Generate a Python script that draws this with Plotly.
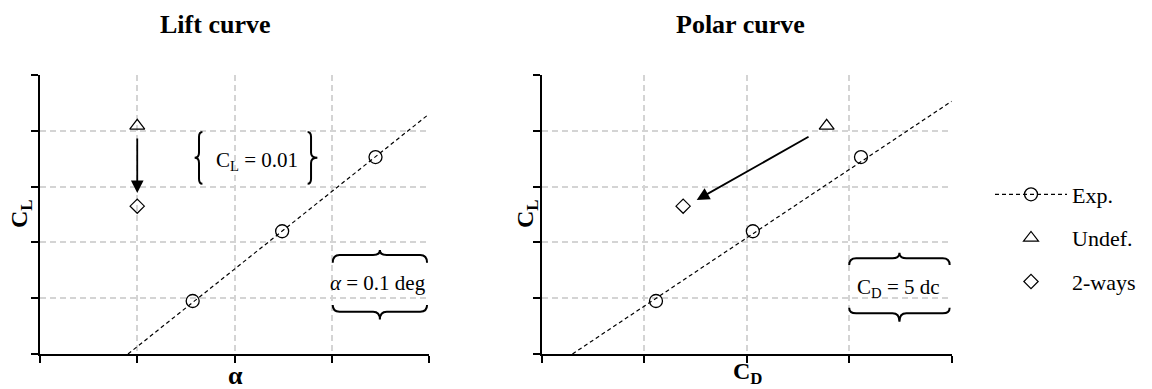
import plotly.graph_objects as go

# ---------------- data ----------------
# Lift curve (x = alpha, y = C_L), arbitrary grid units
lift_exp_x = [1.57, 2.49, 3.45]
lift_exp_y = [0.95, 2.20, 3.53]
lift_fit_x = [0.905, 4.0]
lift_fit_y = [0.0, 4.30]
lift_undef_x = [1.0]
lift_undef_y = [4.09]
lift_2w_x = [1.0]
lift_2w_y = [2.65]

# Polar curve (x = C_D, y = C_L)
polar_exp_x = [1.115, 2.06, 3.115]
polar_exp_y = [0.95, 2.20, 3.53]
polar_fit_x = [0.30, 4.0]
polar_fit_y = [0.0, 4.53]
polar_undef_x = [2.78]
polar_undef_y = [4.09]
polar_2w_x = [1.38]
polar_2w_y = [2.65]

x_ticks = [0, 1, 2, 3, 4]
y_ticks = [0, 1, 2, 3, 4, 5]

titles = ["Lift curve", "Polar curve"]
legend_names = ["Exp.", "Undef.", "2-ways"]

FONT = "Liberation Serif"
BLACK = "#000000"
GRID = "#d4d4d4"

fig = go.Figure()

# fit lines
fig.add_trace(go.Scatter(x=lift_fit_x, y=lift_fit_y, mode="lines", showlegend=False,
                         line=dict(color=BLACK, width=1.2, dash="4px,3px"), xaxis="x", yaxis="y"))
fig.add_trace(go.Scatter(x=polar_fit_x, y=polar_fit_y, mode="lines", showlegend=False,
                         line=dict(color=BLACK, width=1.2, dash="4px,3px"), xaxis="x2", yaxis="y2"))

circ = dict(symbol="circle-open", size=13, color=BLACK, line=dict(width=1.3, color=BLACK))
tri = dict(symbol="triangle-up-open", size=13, color=BLACK, line=dict(width=1.2, color=BLACK))
dia = dict(symbol="diamond-open", size=11, color=BLACK, line=dict(width=1.2, color=BLACK))

for (ex, ey, ux, uy, wx, wy, xa, ya) in [
    (lift_exp_x, lift_exp_y, lift_undef_x, lift_undef_y, lift_2w_x, lift_2w_y, "x", "y"),
    (polar_exp_x, polar_exp_y, polar_undef_x, polar_undef_y, polar_2w_x, polar_2w_y, "x2", "y2"),
]:
    fig.add_trace(go.Scatter(x=ex, y=ey, mode="markers", marker=circ, showlegend=False, xaxis=xa, yaxis=ya))
    fig.add_trace(go.Scatter(x=ux, y=uy, mode="markers", marker=tri, showlegend=False, xaxis=xa, yaxis=ya))
    fig.add_trace(go.Scatter(x=wx, y=wy, mode="markers", marker=dia, showlegend=False, xaxis=xa, yaxis=ya))

# legend-only entries
fig.add_trace(go.Scatter(x=[None], y=[None], mode="lines+markers", name=legend_names[0], legendgroup="a",
                         line=dict(color=BLACK, width=1.2, dash="4px,3px"), marker=circ))
fig.add_trace(go.Scatter(x=[None], y=[None], mode="markers", name=legend_names[1], legendgroup="b", marker=tri))
fig.add_trace(go.Scatter(x=[None], y=[None], mode="markers", name=legend_names[2], legendgroup="c", marker=dia))

W, H = 1152, 389
def px_x(p): return p / W
def px_y(p): return 1 - p / H

axis_common = dict(
    showline=True, linecolor=BLACK, linewidth=2,
    ticks="outside", ticklen=7, tickwidth=1.5, tickcolor=BLACK,
    showticklabels=False, zeroline=False,
    showgrid=True, gridcolor=GRID, gridwidth=1.6, griddash="6px,4px",
    fixedrange=True,
)
ydom = [px_y(354), px_y(75)]
fig.update_layout(
    width=W, height=H,
    margin=dict(l=0, r=0, t=0, b=0),
    paper_bgcolor="white", plot_bgcolor="white",
    font=dict(family=FONT, size=20, color=BLACK),
    xaxis=dict(axis_common, domain=[px_x(40), px_x(429)], range=[0, 4], tickvals=x_ticks, anchor="y"),
    yaxis=dict(axis_common, domain=ydom, range=[0, 5], tickvals=y_ticks, anchor="x"),
    xaxis2=dict(axis_common, domain=[px_x(541.7), px_x(951.7)], range=[0, 4], tickvals=x_ticks, anchor="y2"),
    yaxis2=dict(axis_common, domain=ydom, range=[0, 5], tickvals=y_ticks, anchor="x2"),
    legend=dict(x=px_x(990), y=px_y(238), xanchor="left", yanchor="middle",
                font=dict(family=FONT, size=22), tracegroupgap=12, itemwidth=72,
                bgcolor="rgba(0,0,0,0)"),
    showlegend=True,
)

ann = []
# titles
for t, cx in zip(titles, [215, 740]):
    ann.append(dict(text="<b>%s</b>" % t, x=px_x(cx), y=px_y(25), xref="paper", yref="paper",
                    showarrow=False, xanchor="center", yanchor="middle", font=dict(size=26)))
# axis titles
ann.append(dict(text="<b>C<sub>L</sub></b>", x=px_x(21), y=px_y(214), xref="paper", yref="paper",
                textangle=-90, showarrow=False, xanchor="center", yanchor="middle", font=dict(size=24)))
ann.append(dict(text="<b>C<sub>L</sub></b>", x=px_x(527), y=px_y(214), xref="paper", yref="paper",
                textangle=-90, showarrow=False, xanchor="center", yanchor="middle", font=dict(size=24)))
ann.append(dict(text="<b>α</b>", x=px_x(235), y=px_y(375), xref="paper", yref="paper",
                showarrow=False, xanchor="center", yanchor="middle", font=dict(size=26)))
ann.append(dict(text="<b>C<sub>D</sub></b>", x=px_x(747), y=px_y(373), xref="paper", yref="paper",
                showarrow=False, xanchor="center", yanchor="middle", font=dict(size=24)))
# brace labels
ann.append(dict(text="C<sub>L</sub> = 0.01", x=2.23, y=3.45, xref="x", yref="y",
                showarrow=False, xanchor="center", yanchor="middle", font=dict(size=21)))
ann.append(dict(text="<i>α</i> = 0.1 deg", x=3.48, y=1.28, xref="x", yref="y",
                showarrow=False, xanchor="center", yanchor="middle", font=dict(size=21)))
ann.append(dict(text="C<sub>D</sub> = 5 dc", x=3.48, y=1.18, xref="x2", yref="y2",
                showarrow=False, xanchor="center", yanchor="middle", font=dict(size=21)))
# arrows (from Undef. to 2-ways)
ann.append(dict(x=1.0, y=2.885, ax=1.0, ay=3.89, xref="x", yref="y", axref="x", ayref="y",
                text="", showarrow=True, arrowhead=2, arrowsize=1.4, arrowwidth=1.8, arrowcolor=BLACK))
ann.append(dict(x=1.512, y=2.76, ax=2.618, ay=3.907, xref="x2", yref="y2", axref="x2", ayref="y2",
                text="", showarrow=True, arrowhead=2, arrowsize=1.4, arrowwidth=1.8, arrowcolor=BLACK))
fig.update_layout(annotations=ann)

# braces as paths (data coordinates)
def hbrace(x0, x1, y, d, t, r, up=True):
    s = 1 if up else -1
    xm = (x0 + x1) / 2
    return (f"M{x0},{y - s*d} Q{x0},{y} {x0 + r},{y} L{xm - r},{y} Q{xm},{y} {xm},{y + s*t} "
            f"Q{xm},{y} {xm + r},{y} L{x1 - r},{y} Q{x1},{y} {x1},{y - s*d}")

def vbrace(x, y0, y1, d, t, r, left=True):
    s = 1 if left else -1
    ym = (y0 + y1) / 2
    return (f"M{x + s*d},{y1} Q{x},{y1} {x},{y1 - r} L{x},{ym + r} Q{x},{ym} {x - s*t},{ym} "
            f"Q{x},{ym} {x},{ym - r} L{x},{y0 + r} Q{x},{y0} {x + s*d},{y0}")

bl = dict(color=BLACK, width=2)
shapes = [
    dict(type="path", xref="x", yref="y", line=bl, path=hbrace(3.01, 3.98, 1.774, 0.14, 0.09, 0.07, True)),
    dict(type="path", xref="x", yref="y", line=bl, path=hbrace(3.01, 3.98, 0.758, 0.12, 0.14, 0.07, False)),
    dict(type="path", xref="x", yref="y", line=bl, path=vbrace(1.635, 3.05, 3.98, 0.035, 0.045, 0.09, True)),
    dict(type="path", xref="x", yref="y", line=bl, path=vbrace(2.787, 3.05, 3.98, 0.035, 0.065, 0.09, False)),
    dict(type="path", xref="x2", yref="y2", line=bl, path=hbrace(3.0, 3.98, 1.715, 0.12, 0.10, 0.068, True)),
    dict(type="path", xref="x2", yref="y2", line=bl, path=hbrace(3.0, 3.98, 0.73, 0.10, 0.15, 0.068, False)),
]
fig.update_layout(shapes=shapes)

fig.write_html("out.html")
